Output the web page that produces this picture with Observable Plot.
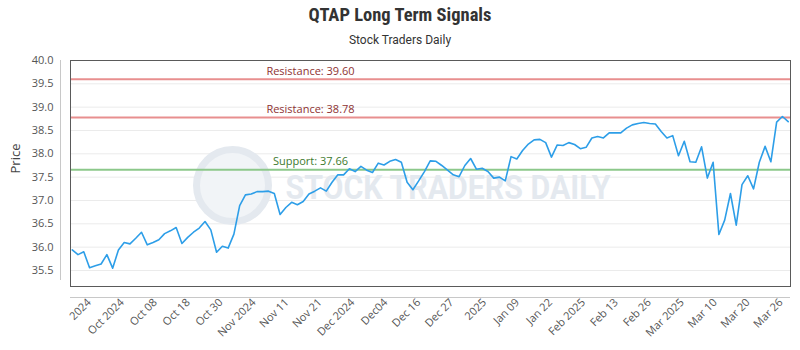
<!DOCTYPE html>
<html>
<head>
<meta charset="utf-8">
<script src="https://cdn.jsdelivr.net/npm/d3@7"></script>
<script src="https://cdn.jsdelivr.net/npm/@observablehq/plot@0.6"></script>
<style>
  html, body { margin: 0; padding: 0; background: #fff; }
  #wrap { width: 800px; height: 350px; position: relative; overflow: hidden; }
  #title { position: absolute; top: 4px; left: 0; width: 800px; text-align: center;
    font-family: "Liberation Sans Narrow", "Roboto Condensed", Roboto, sans-serif; font-weight: bold;
    font-size: 18.5px; color: #333; line-height: 22px; }
  #subtitle { position: absolute; top: 32px; left: 0; width: 800px; text-align: center;
    font-family: "Liberation Sans Narrow", Roboto, sans-serif; font-size: 12px; color: #333; line-height: 16px; }
  #chart { position: absolute; top: 50px; left: 0; }
</style>
</head>
<body>
<div id="wrap">
  <div id="title">QTAP Long Term Signals</div>
  <div id="subtitle">Stock Traders Daily</div>
  <div id="chart"></div>
</div>
<script>
const prices = [
  35.94, 35.84, 35.90, 35.56, 35.60, 35.64, 35.84, 35.55, 35.94, 36.10,
  36.07, 36.19, 36.32, 36.05, 36.10, 36.16, 36.29, 36.35, 36.42, 36.08,
  36.21, 36.32, 36.41, 36.55, 36.37, 35.89, 36.02, 35.98, 36.28, 36.89,
  37.12, 37.14, 37.19, 37.19, 37.20, 37.15, 36.70, 36.85, 36.96, 36.91,
  36.98, 37.14, 37.20, 37.27, 37.20, 37.39, 37.55, 37.55, 37.68, 37.62,
  37.73, 37.65, 37.60, 37.80, 37.76, 37.84, 37.88, 37.82, 37.39, 37.23,
  37.42, 37.62, 37.85, 37.84, 37.75, 37.65, 37.55, 37.51, 37.75, 37.90,
  37.67, 37.69, 37.62, 37.48, 37.50, 37.42, 37.94, 37.89, 38.07, 38.21,
  38.30, 38.31, 38.24, 37.93, 38.19, 38.18, 38.24, 38.20, 38.11, 38.14,
  38.34, 38.37, 38.34, 38.45, 38.45, 38.45, 38.55, 38.62, 38.65, 38.67,
  38.65, 38.64, 38.48, 38.34, 38.39, 37.96, 38.27, 37.83, 37.82, 38.15,
  37.48, 37.82, 36.27, 36.58, 37.15, 36.47, 37.34, 37.53, 37.25, 37.82,
  38.16, 37.83, 38.68, 38.80, 38.69
];
const tickLabels = ["2024", "Oct 2024", "Oct 08", "Oct 18", "Oct 30", "Nov 2024", "Nov 11", "Nov 21",
  "Dec 2024", "Dec04", "Dec 16", "Dec 27", "2025", "Jan 09", "Jan 22", "Feb 2025", "Feb 13",
  "Feb 26", "Mar 2025", "Mar 10", "Mar 20", "Mar 26"];
const levelNames = ["Resistance", "Resistance", "Support"];
const levelValues = [39.60, 38.78, 37.66];
const yTicks = [35.5, 36.0, 36.5, 37.0, 37.5, 38.0, 38.5, 39.0, 39.5, 40.0];
const watermark = "STOCK TRADERS DAILY";

const series = prices.map((v, i) => ({i, v}));
const levels = levelValues.map((v, k) => ({name: levelNames[k], v,
  kind: levelNames[k] === "Support" ? "s" : "r"}));
const tickPos = tickLabels.map((_, k) => 2.95 + k * 5.705);
const tickMap = new Map(tickPos.map((p, k) => [p, tickLabels[k]]));

const font = '"Open Sans", "Noto Sans", sans-serif';
const chart = Plot.plot({
  width: 800,
  height: 300,
  marginLeft: 70,
  marginRight: 10,
  marginTop: 10,
  marginBottom: 64,
  style: {fontFamily: font, fontSize: "11px", color: "#555", background: "#fff"},
  x: {domain: [-0.3, 124.4]},
  y: {domain: [35.157, 40]},
  marks: [
    Plot.gridY(yTicks, {stroke: "#ebebeb", strokeOpacity: 1}),
    Plot.dot([0], {frameAnchor: "left", dx: 162, dy: 12, r: 36, fill: "#f1f4f7", stroke: "#e4e9ef", strokeWidth: 7}),
    Plot.text([watermark], {frameAnchor: "left", dx: 215, dy: 15, textAnchor: "start",
      fontSize: 33, fontWeight: "bold", fill: "#e4e9ef", className: "wm",
      fontFamily: '"Liberation Sans Narrow", Roboto, sans-serif'}),
    Plot.ruleY(levels, {y: "v", stroke: d => d.kind === "s" ? "#8cc88a" : "#e88f8f", strokeWidth: 2}),
    Plot.text(levels, {y: "v", frameAnchor: "left", dx: 240, dy: -8, textAnchor: "middle",
      text: d => `${d.name}: ${d.v.toFixed(2)}`, fontSize: 11,
      fill: d => d.kind === "s" ? "#3d7a2e" : "#8e3232"}),
    Plot.line(series, {x: "i", y: "v", stroke: "#2d9ee8", strokeWidth: 1.6}),
    Plot.frame({stroke: "#5a5a5a", strokeWidth: 1}),
    Plot.axisY(yTicks, {tickFormat: d => d.toFixed(1), tickSize: 0, tickPadding: 17, label: null,
      fontSize: 11, fill: "#555"}),
    Plot.text(["Price"], {frameAnchor: "left", dx: -55, rotate: -90, fontSize: 13, fill: "#444"}),
    Plot.axisX(tickPos, {tickFormat: d => tickMap.get(d), tickRotate: -45, tickSize: 0, tickPadding: 14,
      label: null, fontSize: 11, fill: "#555"})
  ]
});
document.getElementById("chart").appendChild(chart);
const svg = d3.select(chart.tagName === "svg" ? chart : chart.querySelector("svg"));
svg.selectAll("g.wm text").attr("textLength", 325).attr("lengthAdjust", "spacingAndGlyphs");
svg.append("line").attr("x1", 60.5).attr("x2", 60.5).attr("y1", 10).attr("y2", 230)
  .attr("stroke", "#c8c8c8").attr("stroke-width", 1);
svg.append("line").attr("x1", 70).attr("x2", 790).attr("y1", 247.5).attr("y2", 247.5)
  .attr("stroke", "#c8c8c8").attr("stroke-width", 1);
</script>
</body>
</html>
